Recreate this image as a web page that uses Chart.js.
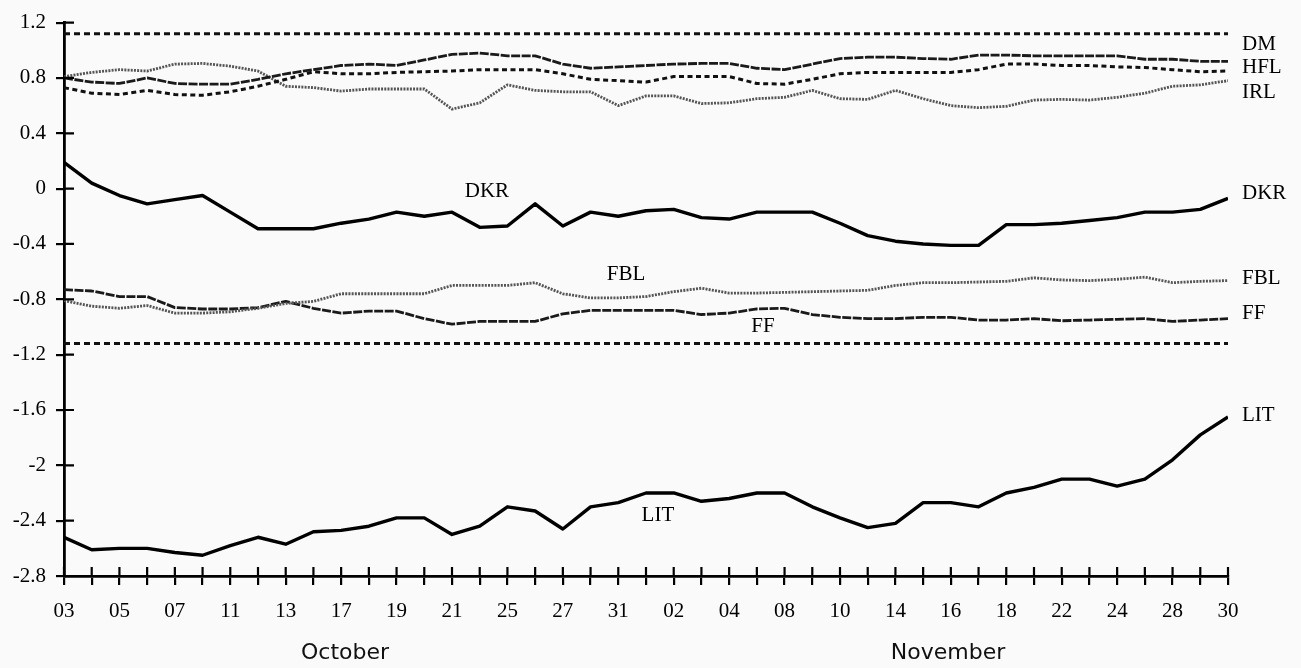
<!DOCTYPE html>
<html>
<head>
<meta charset="utf-8">
<script src="https://cdn.jsdelivr.net/npm/chart.js@4.4.1/dist/chart.umd.min.js"></script>
<style>
  html, body { margin: 0; padding: 0; background: #fafafa; overflow: hidden; }
  #wrap { width: 1301px; height: 668px; position: relative; }
</style>
</head>
<body>
<div id="wrap"><canvas id="c"></canvas></div>
<script>
// Trading days, 3 October – 30 November
const categories = ['03','04','05','06','07','10','11','12','13','14','17','18','19','20','21','24','25','26','27','28','31',
                    '01','02','03','04','07','08','09','10','11','14','15','16','17','18','21','22','23','24','25','28','29','30'];
const yTickValues = [-2.8,-2.4,-2,-1.6,-1.2,-0.8,-0.4,0,0.4,0.8,1.2];
const BOUND = 1.12;

const DM  = [0.80,0.77,0.76,0.80,0.76,0.755,0.755,0.79,0.83,0.86,0.89,0.90,0.89,0.93,0.97,0.98,0.96,0.96,0.90,0.87,0.88,
             0.89,0.90,0.905,0.905,0.87,0.86,0.90,0.94,0.95,0.95,0.94,0.935,0.965,0.965,0.96,0.96,0.96,0.96,0.935,0.935,0.92,0.92];
const HFL = [0.73,0.69,0.68,0.71,0.68,0.675,0.70,0.74,0.79,0.845,0.83,0.83,0.84,0.845,0.85,0.86,0.86,0.86,0.83,0.79,0.78,
             0.77,0.81,0.81,0.81,0.76,0.755,0.79,0.83,0.84,0.84,0.84,0.84,0.86,0.90,0.90,0.89,0.89,0.88,0.875,0.86,0.845,0.85];
const IRL = [0.81,0.84,0.86,0.85,0.90,0.905,0.885,0.85,0.74,0.73,0.705,0.72,0.72,0.72,0.575,0.62,0.75,0.71,0.70,0.70,0.60,
             0.67,0.67,0.615,0.62,0.65,0.66,0.71,0.65,0.645,0.71,0.65,0.60,0.585,0.595,0.64,0.645,0.64,0.66,0.69,0.74,0.75,0.78];
const DKR = [0.19,0.04,-0.05,-0.11,-0.08,-0.05,-0.17,-0.29,-0.29,-0.29,-0.25,-0.22,-0.17,-0.20,-0.17,-0.28,-0.27,-0.11,-0.27,-0.17,-0.20,
             -0.16,-0.15,-0.21,-0.22,-0.17,-0.17,-0.17,-0.25,-0.34,-0.38,-0.40,-0.41,-0.41,-0.26,-0.26,-0.25,-0.23,-0.21,-0.17,-0.17,-0.15,-0.07];
const FBL = [-0.81,-0.85,-0.865,-0.845,-0.90,-0.90,-0.89,-0.865,-0.83,-0.815,-0.76,-0.76,-0.76,-0.76,-0.70,-0.70,-0.70,-0.68,-0.76,-0.79,-0.79,
             -0.78,-0.745,-0.72,-0.755,-0.755,-0.75,-0.745,-0.74,-0.735,-0.70,-0.68,-0.68,-0.675,-0.67,-0.645,-0.66,-0.665,-0.655,-0.64,-0.68,-0.67,-0.665];
const FF  = [-0.73,-0.74,-0.78,-0.78,-0.86,-0.87,-0.87,-0.86,-0.815,-0.865,-0.90,-0.885,-0.885,-0.94,-0.98,-0.96,-0.96,-0.96,-0.905,-0.88,-0.88,
             -0.88,-0.88,-0.91,-0.90,-0.87,-0.865,-0.91,-0.93,-0.94,-0.94,-0.93,-0.93,-0.95,-0.95,-0.94,-0.955,-0.95,-0.945,-0.94,-0.96,-0.95,-0.94];
const LIT = [-2.52,-2.61,-2.60,-2.60,-2.63,-2.65,-2.58,-2.52,-2.57,-2.48,-2.47,-2.44,-2.38,-2.38,-2.50,-2.44,-2.30,-2.33,-2.46,-2.30,-2.27,
             -2.20,-2.20,-2.26,-2.24,-2.20,-2.20,-2.30,-2.38,-2.45,-2.42,-2.27,-2.27,-2.30,-2.20,-2.16,-2.10,-2.10,-2.15,-2.10,-1.96,-1.78,-1.65];

// Text annotations (x in category index units, y in data units)
const endLabels = [
  {text:'DM', y:1.04}, {text:'HFL', y:0.876}, {text:'IRL', y:0.696}, {text:'DKR', y:-0.037},
  {text:'FBL', y:-0.649}, {text:'FF', y:-0.90}, {text:'LIT', y:-1.64}
];
const inlineLabels = [
  {text:'DKR', x:15.26, y:-0.02}, {text:'FBL', x:20.28, y:-0.62},
  {text:'FF', x:25.22, y:-0.995}, {text:'LIT', x:21.43, y:-2.36}
];
const monthLabels = [{text:'October', x:10.14}, {text:'November', x:31.9}];

const toXY = arr => arr.map((v, i) => ({x: i, y: v}));
const lastIdx = categories.length - 1;

function series(label, data, color, width, dash) {
  return { label, data: toXY(data), borderColor: color, borderWidth: width, borderDash: dash,
           pointRadius: 0, tension: 0, fill: false, borderCapStyle: 'butt', borderJoinStyle: 'round' };
}

const datasets = [
  { label: 'upper', data: [{x:0, y:BOUND},{x:lastIdx, y:BOUND}], borderColor:'#111', borderWidth:3, borderDash:[6,4], pointRadius:0 },
  { label: 'lower', data: [{x:0, y:-BOUND},{x:lastIdx, y:-BOUND}], borderColor:'#111', borderWidth:3, borderDash:[6,4], pointRadius:0 },
  series('DM', DM, '#1a1a1a', 2.8, [9,1.5]),
  series('HFL', HFL, '#111', 3, [5,3.5]),
  series('IRL', IRL, '#555', 2.8, [2,1.2]),
  series('DKR', DKR, '#000', 3.4, []),
  series('FBL', FBL, '#555', 2.8, [2,1.2]),
  series('FF', FF, '#1a1a1a', 2.8, [9,1.5]),
  series('LIT', LIT, '#000', 3.4, [])
];

const SERIF = '"Liberation Serif", "DejaVu Serif", serif';

const decor = {
  id: 'decor',
  beforeDraw(chart) {
    const ctx = chart.ctx;
    ctx.save();
    ctx.fillStyle = '#fafafa';
    ctx.fillRect(0, 0, chart.width, chart.height);
    ctx.restore();
  },
  afterDraw(chart) {
    const {ctx, chartArea: a, scales: {x, y}} = chart;
    ctx.save();
    ctx.strokeStyle = '#000';
    ctx.lineWidth = 2.2;
    ctx.beginPath();
    x.ticks.forEach(t => { const px = x.getPixelForValue(t.value); ctx.moveTo(px, a.bottom); ctx.lineTo(px, a.bottom - 9); });
    y.ticks.forEach(t => { const py = y.getPixelForValue(t.value); ctx.moveTo(a.left, py); ctx.lineTo(a.left + 10, py); });
    ctx.stroke();

    ctx.fillStyle = '#000';
    ctx.font = '21px ' + SERIF;
    ctx.textBaseline = 'middle';
    ctx.textAlign = 'left';
    endLabels.forEach(l => ctx.fillText(l.text, a.right + 14, y.getPixelForValue(l.y)));
    ctx.textAlign = 'center';
    inlineLabels.forEach(l => ctx.fillText(l.text, x.getPixelForValue(l.x), y.getPixelForValue(l.y)));

    ctx.font = '22px "DejaVu Sans", sans-serif';
    ctx.fillStyle = '#111';
    monthLabels.forEach(l => ctx.fillText(l.text, x.getPixelForValue(l.x), 653));
    ctx.restore();
  }
};

new Chart(document.getElementById('c'), {
  type: 'line',
  data: { datasets },
  plugins: [decor],
  options: {
    responsive: true,
    maintainAspectRatio: false,
    animation: false,
    layout: { padding: { top: 20, right: 73, bottom: 0, left: 0 } },
    plugins: { legend: { display: false }, tooltip: { enabled: false } },
    scales: {
      x: {
        type: 'linear', min: 0, max: lastIdx,
        afterFit: s => { s.height = 92; },
        afterBuildTicks: s => { s.ticks = categories.map((c, i) => ({value: i})); },
        ticks: {
          autoSkip: false, maxRotation: 0, padding: 14, color: '#000',
          font: { family: SERIF, size: 21 },
          callback: v => (v % 2 === 0 ? categories[v] : '')
        },
        grid: { drawOnChartArea: false, drawTicks: true, tickLength: 9, color: '#000', lineWidth: 2.2 },
        border: { display: true, color: '#000', width: 2.8 }
      },
      y: {
        type: 'linear', min: -2.8, max: 1.2,
        afterFit: s => { s.width = 64; },
        afterBuildTicks: s => { s.ticks = yTickValues.map(v => ({value: v})); },
        ticks: {
          padding: 10, color: '#000',
          font: { family: SERIF, size: 21 },
          callback: v => String(parseFloat(Number(v).toFixed(1)))
        },
        grid: { drawOnChartArea: false, drawTicks: true, tickLength: 8, color: '#000', lineWidth: 2.2 },
        border: { display: true, color: '#000', width: 2.8 }
      }
    }
  }
});
</script>
</body>
</html>
